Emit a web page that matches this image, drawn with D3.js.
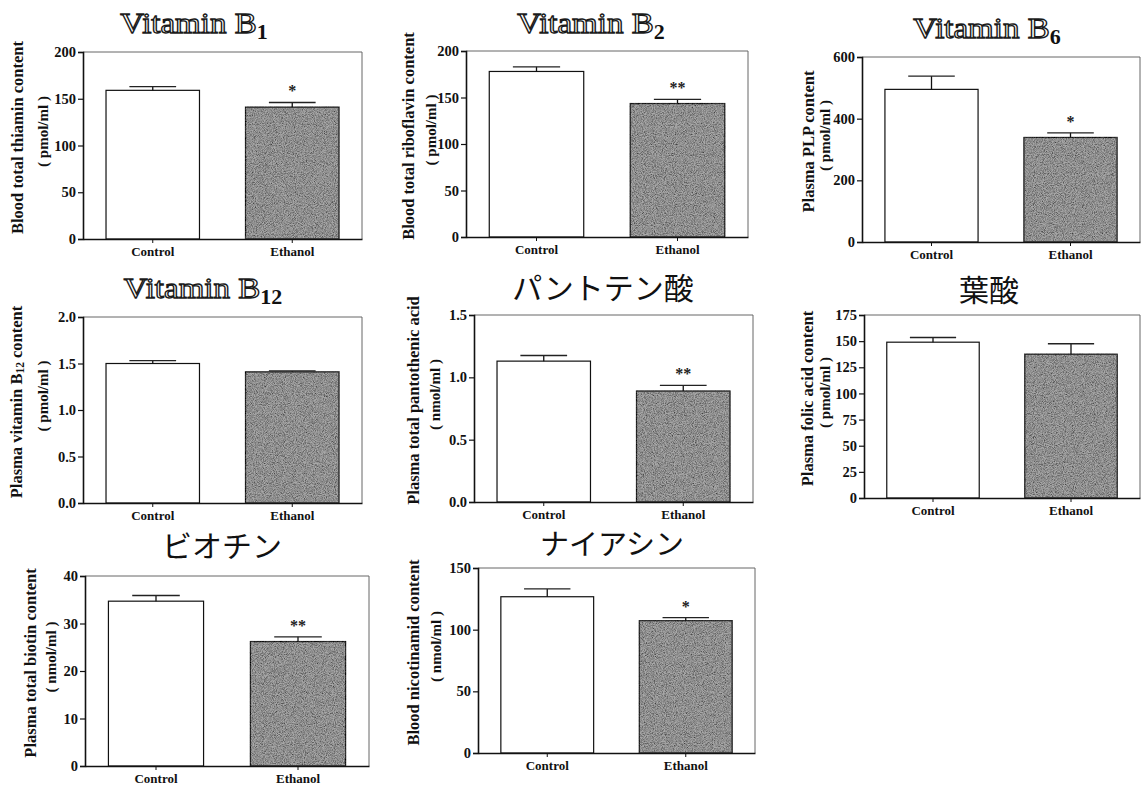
<!DOCTYPE html>
<html><head><meta charset="utf-8">
<script src="https://cdn.jsdelivr.net/npm/d3@7"></script>
<style>
html,body{margin:0;padding:0;background:#fff;}
svg{display:block;}
</style></head>
<body>
<svg id="chart" width="1143" height="788"></svg>
<script>
// ---------- DATA ----------
const categories = ["Control", "Ethanol"];
const titleMain = ["Vitamin B", "Vitamin B", "Vitamin B", "Vitamin B", "パントテン酸", "葉酸", "ビオチン", "ナイアシン"];
const titleSub = ["1", "2", "6", "12", "", "", "", ""];
const yLabelPre = ["Blood total thiamin content", "Blood total riboflavin content", "Plasma PLP content",
  "Plasma vitamin B", "Plasma total pantothenic acid", "Plasma folic acid content",
  "Plasma total biotin content", "Blood nicotinamid content"];
const yLabelSub = ["", "", "", "12", "", "", "", ""];
const yLabelPost = ["", "", "", " content", "", "", "", ""];
const yUnits = ["( pmol/ml )", "( pmol/ml )", "( pmol/ml )", "( pmol/ml )", "( nmol/ml )", "( pmol/ml )", "( nmol/ml )", "( nmol/ml )"];
const controlMeans = [159, 178, 495, 1.50, 1.13, 149, 34.7, 126.7];
const ethanolMeans = [141, 143.5, 339, 1.41, 0.89, 137.5, 26.2, 107.3];
const controlSEM = [4, 5, 43, 0.03, 0.045, 4.5, 1.2, 6.3];
const ethanolSEM = [5, 4.5, 15, 0.01, 0.045, 10, 1.0, 2.4];
const yMaxes = [200, 200, 600, 2.0, 1.5, 175, 40, 150];
const yTickValues = [[0, 50, 100, 150, 200], [0, 50, 100, 150, 200], [0, 200, 400, 600], [0, 0.5, 1.0, 1.5, 2.0],
  [0, 0.5, 1.0, 1.5], [0, 25, 50, 75, 100, 125, 150, 175], [0, 10, 20, 30, 40], [0, 50, 100, 150]];
const yTickLabels = [["0", "50", "100", "150", "200"], ["0", "50", "100", "150", "200"], ["0", "200", "400", "600"],
  ["0.0", "0.5", "1.0", "1.5", "2.0"], ["0.0", "0.5", "1.0", "1.5"], ["0", "25", "50", "75", "100", "125", "150", "175"],
  ["0", "10", "20", "30", "40"], ["0", "50", "100", "150"]];
const significance = ["*", "**", "*", "", "**", "", "**", "*"];

// ---------- LAYOUT ----------
const plotRects = [[83, 52, 362, 239], [466, 51, 748, 237], [862, 57, 1140, 242], [83, 317, 362, 503],
  [474, 315, 753, 502], [864, 315, 1140, 498], [85, 576, 369, 766], [478, 568, 755, 753]];
const titlePos = [[194, 33], [591, 33], [987, 38], [203, 298], [603, 299], [989, 301], [222, 557], [612, 555]];
const titleCjkSize = [0, 0, 0, 0, 30, 30, 30, 29];
const yLabelX = [[17, 43], [408, 431], [808, 825], [16, 43], [413, 435], [807, 825], [30, 51], [413, 436]];

const svg = d3.select("#chart");
const serif = "'Liberation Serif','Times New Roman',serif";
const cjk = "'Noto Sans CJK JP','Noto Sans CJK SC',sans-serif";

// grain texture for ethanol bars
const defs = svg.append("defs");
const f = defs.append("filter").attr("id", "grain").attr("x", "-2%").attr("y", "-2%").attr("width", "104%").attr("height", "104%");
f.append("feTurbulence").attr("type", "fractalNoise").attr("baseFrequency", "1.1").attr("numOctaves", 2).attr("seed", 5).attr("result", "noise");
f.append("feColorMatrix").attr("in", "noise").attr("type", "matrix")
  .attr("values", "0 0 0 0 0.05  0 0 0 0 0.05  0 0 0 0 0.05  1.8 0 0 0 -0.55").attr("result", "speck");
f.append("feComposite").attr("in", "speck").attr("in2", "SourceGraphic").attr("operator", "in").attr("result", "sp");
const fm = f.append("feMerge");
fm.append("feMergeNode").attr("in", "SourceGraphic");
fm.append("feMergeNode").attr("in", "sp");

plotRects.forEach((r, i) => {
  const [x0, y0, x1, y1] = r;
  const g = svg.append("g");
  const x = d3.scaleBand().domain(categories).range([x0, x1]).paddingInner(0.33).paddingOuter(0.165);
  const y = d3.scaleLinear().domain([0, yMaxes[i]]).range([y1, y0]);

  const means = [controlMeans[i], ethanolMeans[i]];
  const sems = [controlSEM[i], ethanolSEM[i]];
  const rows = categories.map((c, k) => ({ c, v: means[k], e: sems[k], k }));

  // frame (top/right lighter)
  g.append("line").attr("x1", x0).attr("x2", x1).attr("y1", y0).attr("y2", y0).attr("stroke", "#666").attr("stroke-width", 1);
  g.append("line").attr("x1", x1).attr("x2", x1).attr("y1", y0).attr("y2", y1).attr("stroke", "#666").attr("stroke-width", 1);

  // bars
  g.selectAll("rect.bar").data(rows).join("rect").attr("class", "bar")
    .attr("x", d => x(d.c)).attr("width", x.bandwidth())
    .attr("y", d => y(d.v)).attr("height", d => y(0) - y(d.v))
    .attr("fill", d => d.k === 0 ? "#fff" : "#a8a8a8")
    .attr("stroke", "#111").attr("stroke-width", 1.2)
    .attr("filter", d => d.k === 0 ? null : "url(#grain)");

  // error bars
  const cap = x.bandwidth() * 0.5;
  rows.forEach(d => {
    const cx = x(d.c) + x.bandwidth() / 2;
    g.append("line").attr("x1", cx).attr("x2", cx).attr("y1", y(d.v)).attr("y2", y(d.v + d.e)).attr("stroke", "#111").attr("stroke-width", 1.3);
    g.append("line").attr("x1", cx - cap / 2).attr("x2", cx + cap / 2).attr("y1", y(d.v + d.e)).attr("y2", y(d.v + d.e)).attr("stroke", "#222").attr("stroke-width", 1.3);
  });

  // significance
  if (significance[i]) {
    const cx = x(categories[1]) + x.bandwidth() / 2;
    g.append("text").attr("x", cx).attr("y", y(ethanolMeans[i] + ethanolSEM[i]) - 6)
      .attr("text-anchor", "middle").attr("font-family", serif).attr("font-weight", "bold")
      .attr("font-size", 16).attr("fill", "#222").text(significance[i]);
  }

  // y axis
  const ya = d3.axisLeft(y).tickValues(yTickValues[i]).tickSize(5).tickPadding(2)
    .tickFormat((d, j) => yTickLabels[i][j]);
  const yg = g.append("g").attr("transform", `translate(${x0},0)`).call(ya);
  yg.select(".domain").attr("stroke", "#111").attr("stroke-width", 1.6);
  yg.selectAll(".tick line").attr("stroke", "#111").attr("stroke-width", 1.2);
  yg.selectAll(".tick text").attr("font-family", serif).attr("font-weight", "bold").attr("font-size", 14.5).attr("fill", "#111");

  // x axis
  const xa = d3.axisBottom(x).tickSize(4).tickPadding(4).tickSizeOuter(0);
  const xg = g.append("g").attr("transform", `translate(0,${y1})`).call(xa);
  xg.select(".domain").attr("stroke", "#111").attr("stroke-width", 1.6);
  xg.selectAll(".tick line").attr("stroke", "#111").attr("stroke-width", 1);
  xg.selectAll(".tick text").attr("font-family", serif).attr("font-weight", "bold").attr("font-size", 13).attr("fill", "#111");

  // y label
  const cy = (y0 + y1) / 2 - 8;
  const t1 = g.append("text").attr("transform", `translate(${yLabelX[i][0]},${cy}) rotate(-90)`)
    .attr("text-anchor", "middle").attr("dominant-baseline", "central")
    .attr("font-family", serif).attr("font-weight", "bold").attr("font-size", 16.5).attr("fill", "#111");
  t1.append("tspan").text(yLabelPre[i]);
  if (yLabelSub[i]) {
    t1.append("tspan").attr("font-size", 11.5).attr("dy", 4).text(yLabelSub[i]);
    t1.append("tspan").attr("dy", -4).text(yLabelPost[i]);
  }
  g.append("text").attr("transform", `translate(${yLabelX[i][1]},${cy - 6}) rotate(-90)`)
    .attr("text-anchor", "middle").attr("dominant-baseline", "central")
    .attr("font-family", serif).attr("font-weight", "bold").attr("font-size", 15).attr("fill", "#111")
    .text(yUnits[i]);

  // title
  const [tx, ty] = titlePos[i];
  if (titleSub[i]) {
    const tt = g.append("text").attr("transform", `translate(${tx},${ty}) scale(1.1,1)`)
      .attr("text-anchor", "middle").attr("font-family", serif).attr("font-weight", "normal");
    tt.append("tspan").attr("font-size", 30).attr("fill", "#fff").attr("stroke", "#1a1a1a").attr("stroke-width", 1.3)
      .text(titleMain[i]);
    tt.append("tspan").attr("font-size", 20).attr("font-weight", "bold").attr("dy", 6).attr("fill", "#111").text(titleSub[i]);
  } else {
    g.append("text").attr("x", tx).attr("y", ty).attr("text-anchor", "middle")
      .attr("font-family", cjk).attr("font-weight", 400).attr("font-size", titleCjkSize[i]).attr("fill", "#111")
      .text(titleMain[i]);
  }
});
</script>
</body></html>
